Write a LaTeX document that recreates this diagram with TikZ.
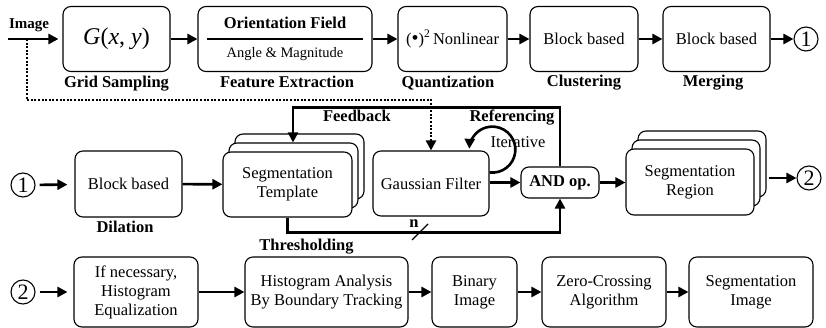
\documentclass[tikz,border=0pt]{standalone}
\usepackage{fontspec}
\setmainfont{Liberation Serif}
\usetikzlibrary{arrows.meta,shadows}
\tikzset{
  box/.style={draw, line width=1.1pt, rounded corners=8pt, fill=white, align=center,
    inner sep=0pt, font=\fontsize{16.5}{19}\selectfont},
  stack/.style={double copy shadow={shadow xshift=6pt, shadow yshift=9pt,
    draw, line width=1.1pt, fill=white}},
  lbl/.style={anchor=base, font=\fontsize{16.5}{19}\selectfont\bfseries},
  arr/.style={line width=2.6pt, -{Triangle[length=10pt,width=10pt]}},
  fbdot/.style={line width=2.6pt, dash pattern=on 2pt off 1.6pt, -{Triangle[length=10pt,width=10pt]}},
  num/.style={draw, circle, line width=1.1pt, minimum size=24pt, inner sep=0pt,
    font=\fontsize{22}{22}\selectfont},
}
\begin{document}
\begin{tikzpicture}[x=1pt,y=-1pt]
\useasboundingbox (0,0) rectangle (826,328);

\node[box, minimum width=107pt, minimum height=65pt] (grid) at (116.5,39) {\fontsize{24}{24}\selectfont\textit{G}(\textit{x}, \textit{y})};
\node[box, minimum width=174pt, minimum height=65pt] (feat) at (285,39) {};
\node[box, minimum width=109pt, minimum height=65pt] (quant) at (452.5,39) {({\fontsize{20}{20}\selectfont\textbullet})\textsuperscript{2}\,Nonlinear};
\node[box, minimum width=108pt, minimum height=65pt] (clus) at (584,39) {Block based};
\node[box, minimum width=107pt, minimum height=65pt] (merge) at (716.5,39) {Block based};
\node[num] (oneA) at (806,39) {1};

\node[font=\fontsize{16.5}{16}\selectfont\bfseries] (orient) at (285,22.5) {Orientation Field};
\draw[line width=1.1pt] ([xshift=-78pt]feat.center) -- ([xshift=78pt]feat.center);
\node[font=\fontsize{14.5}{14.5}\selectfont] (angle) at (285,54) {Angle \& Magnitude};

\node[lbl] (imglbl) at (29,29) {\fontsize{15}{15}\selectfont Image};
\node[lbl] (gridlbl) at (116.5,88) {Grid Sampling};
\node[lbl] (featlbl) at (287,88) {Feature Extraction};
\node[lbl] (quantlbl) at (448,88) {Quantization};
\node[lbl] (cluslbl) at (584,87) {Clustering};
\node[lbl] (mergelbl) at (713,87) {Merging};

\coordinate (in) at (8,39);
\coordinate (tap) at (27,39);
\draw[arr, shorten >=4pt] (in) -- (grid);
\draw[arr] (grid) -- (feat);
\draw[arr] (feat) -- (quant);
\draw[arr] (quant) -- (clus);
\draw[arr] (clus) -- (merge);
\draw[arr] (merge) -- (oneA);

\node[num] (oneB) at (23,185) {1};
\node[box, minimum width=107pt, minimum height=66pt] (dil) at (128.5,184) {Block based};
\node[box, stack, minimum width=129pt, minimum height=65pt] (templ) at (287.5,184.5) {Segmentation\\Template};
\node[box, minimum width=116pt, minimum height=65pt] (gauss) at (431,183.5) {Gaussian Filter};
\node[box, minimum width=78pt, minimum height=31pt, font=\fontsize{16.5}{19}\selectfont\bfseries] (and) at (560,182.5) {AND op.};
\node[box, stack, minimum width=128pt, minimum height=66pt] (region) at (690,182) {Segmentation\\Region};
\node[num] (twoA) at (809,178) {2};

\node[lbl] (dillbl) at (125,233) {Dilation};
\node[lbl] (fblbl) at (357,122) {Feedback};
\node[lbl] (reflbl) at (512,122) {Referencing};
\node[anchor=base, font=\fontsize{16.5}{19}\selectfont] (itlbl) at (518,148) {Iterative};
\node[lbl] (thrlbl) at (306.5,251) {Thresholding};
\node[lbl] (nlbl) at (414,228) {n};

\draw[arr, shorten <=4pt, shorten >=7pt] (oneB) -- (dil);
\draw[arr] (dil) -- (templ);
\draw[arr] (gauss.east |- and.west) -- (and.west);
\draw[arr] (and.east) -- (region.west |- and.east);
\draw[arr] ([xshift=14pt,yshift=4pt]region.east) -- (twoA);

\draw[fbdot] (tap) -- ++(0,61) -| (gauss.north);
\draw[arr] (and.north) -- ++(0,-59) -| ([xshift=5.5pt,yshift=9pt]templ.north);
\draw[arr] (templ.south) -- ++(0,15) -| (and.south);
\coordinate (nslash) at (420,232);
\draw[line width=1.1pt] ([shift={(-8,8)}]nslash) -- ([shift={(8,-8)}]nslash);
\draw[arr] ([yshift=-22pt]gauss.north east) arc[start angle=97, end angle=-178, radius=23];

\node[num] (twoB) at (23,292) {2};
\node[box, minimum width=124pt, minimum height=70pt] (equal) at (136,292) {If necessary,\\Histogram\\Equalization};
\node[box, minimum width=163pt, minimum height=70pt] (hist) at (326.5,292) {Histogram Analysis\\By Boundary Tracking};
\node[box, minimum width=85pt, minimum height=70pt] (binary) at (474.5,292) {Binary\\Image};
\node[box, minimum width=124pt, minimum height=70pt] (zero) at (604,292) {Zero-Crossing\\Algorithm};
\node[box, minimum width=124pt, minimum height=70pt] (segimg) at (751,292) {Segmentation\\Image};

\draw[arr, shorten <=4pt, shorten >=6pt] (twoB) -- (equal);
\draw[arr] (equal) -- (hist);
\draw[arr] (hist) -- (binary);
\draw[arr] (binary) -- (zero);
\draw[arr] (zero) -- (segimg);
\end{tikzpicture}
\end{document}
